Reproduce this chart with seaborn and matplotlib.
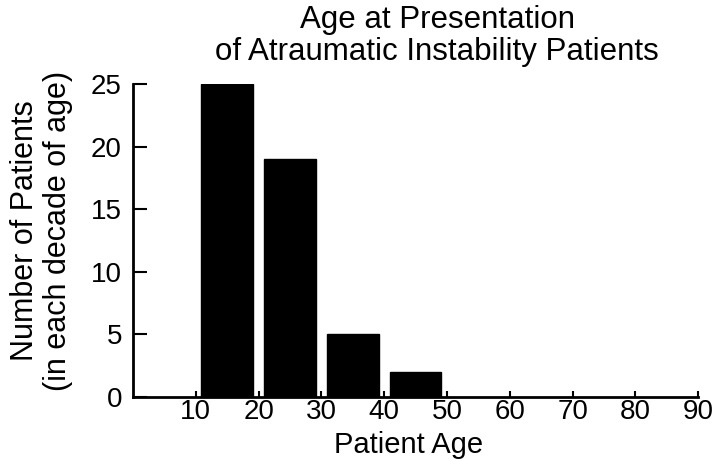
import pandas as pd
import seaborn as sns
import matplotlib
matplotlib.use('Agg')
import matplotlib.pyplot as plt

# values
decades = [15, 25, 35, 45]
patients = [25, 19, 5, 2]
xticks = [10, 20, 30, 40, 50, 60, 70, 80, 90]
yticks = [0, 5, 10, 15, 20, 25]

df = pd.DataFrame({'age': decades, 'count': patients})

sns.set_style('ticks')
plt.rcParams['font.family'] = ['Liberation Sans', 'DejaVu Sans']
plt.rcParams['text.color'] = 'black'
plt.rcParams['axes.labelcolor'] = 'black'

fig = plt.figure(figsize=(7.19, 4.61), dpi=100)
ax = fig.add_axes([0.185, 0.139, 0.786, 0.679])

sns.barplot(data=df, x='age', y='count', native_scale=True, width=0.82,
            color='black', edgecolor='black', saturation=1, ax=ax)

ax.set_xlim(0, 90)
ax.set_ylim(0, 25)
ax.set_xticks(xticks)
ax.set_yticks(yticks)
ax.tick_params(axis='both', labelsize=20, color='black', labelcolor='black', width=1.5)
ax.tick_params(axis='y', direction='in', length=10, pad=8)
ax.tick_params(axis='x', direction='in', length=4, pad=1.2)
sns.despine(ax=ax)
for s in ['left', 'bottom']:
    ax.spines[s].set_linewidth(2)
    ax.spines[s].set_color('black')

ax.set_xlabel('Patient Age', fontsize=21, color='black')
ax.xaxis.set_label_coords(0.487, -0.11)
ax.set_ylabel('Number of Patients\n(in each decade of age)', fontsize=22,
              linespacing=1.15, color='black')
ax.yaxis.set_label_coords(-0.106, 0.53)

fig.text(0.608, 0.922, 'Age at Presentation\nof Atraumatic Instability Patients',
         ha='center', va='center', fontsize=22.5, linespacing=1.1, color='black')

fig.savefig('out.png', dpi=100)
